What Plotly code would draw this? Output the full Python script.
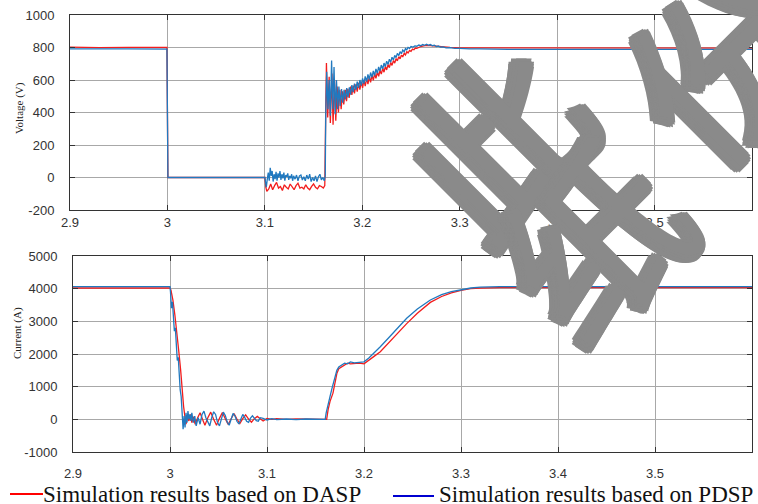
import plotly.graph_objects as go

# ---------------- Voltage (V) ----------------
t_v_dasp = [2.9, 2.93, 2.96, 2.9995, 3.0, 3.0005, 3.1, 3.1005,
            3.101, 3.102, 3.104, 3.106, 3.108, 3.110, 3.112, 3.114, 3.116, 3.118,
            3.120, 3.122, 3.124, 3.126, 3.128, 3.130, 3.132, 3.134, 3.136, 3.138,
            3.140, 3.142, 3.144, 3.146, 3.148, 3.150, 3.152, 3.154, 3.156, 3.158,
            3.160, 3.1615,
            3.1625, 3.1632, 3.1645, 3.1660, 3.1672, 3.1688, 3.1700, 3.1715, 3.1728,
            3.1742, 3.1755, 3.1770, 3.1783, 3.1797, 3.1810, 3.1825, 3.1838, 3.1852,
            3.1865, 3.1880, 3.1893, 3.1907, 3.1920, 3.1935, 3.1948, 3.1962, 3.1975,
            3.1990, 3.2003, 3.2017, 3.2030, 3.2045, 3.2058, 3.2072, 3.2085, 3.2100,
            3.2113, 3.2127, 3.2140, 3.2155, 3.2168, 3.2182, 3.2195, 3.2210, 3.2223,
            3.2237, 3.2250, 3.2265, 3.2278, 3.2292, 3.2305, 3.2320, 3.2333, 3.2347,
            3.2360, 3.2375, 3.2388, 3.2402, 3.2415, 3.2430, 3.2443, 3.2457, 3.2470,
            3.2485, 3.2500, 3.2515, 3.2530, 3.2545, 3.2560, 3.2580, 3.2600, 3.2630,
            3.2660, 3.2700, 3.2750, 3.2800, 3.2900, 3.3000, 3.3500, 3.4500, 3.6000]
v_dasp = [802, 799, 801, 800, 400, 0, 0, -40,
          -60, -85, -70, -40, -75, -50, -30, -65, -55, -80,
          -45, -60, -70, -40, -55, -75, -50, -35, -65, -60,
          -70, -45, -65, -75, -55, -40, -60, -70, -50, -55,
          -65, -50,
          420, 705, 370, 620, 335, 640, 325, 600, 350,
          560, 400, 540, 420, 530, 450, 540, 470, 545,
          490, 560, 508, 566, 518, 574, 528, 582, 540,
          590, 552, 600, 562, 610, 574, 620, 586, 630,
          598, 640, 610, 650, 622, 660, 636, 672, 648,
          684, 662, 696, 676, 708, 690, 720, 704, 732,
          718, 744, 730, 754, 742, 764, 754, 774, 766,
          782, 776, 790, 786, 797, 795, 803, 806, 810,
          813, 812, 809, 805, 801, 798, 797, 796, 796]

t_v_pdsp = [2.9, 2.93, 2.96, 2.9995, 3.0, 3.0005, 3.1,
            3.1008, 3.1015, 3.1025, 3.1035, 3.1045, 3.1055, 3.1065, 3.1075, 3.1085,
            3.1095, 3.1105, 3.1115, 3.1125, 3.1135, 3.1145, 3.1155, 3.1165, 3.1175,
            3.1185, 3.1195, 3.1205, 3.1215, 3.1225, 3.1235, 3.1245, 3.1255, 3.1265,
            3.1275, 3.1285, 3.1295, 3.1310, 3.1325, 3.1340, 3.1355, 3.1370, 3.1385,
            3.1400, 3.1415, 3.1430, 3.1445, 3.1460, 3.1475, 3.1490, 3.1505, 3.1520,
            3.1535, 3.1550, 3.1565, 3.1580, 3.1595, 3.1610, 3.1620,
            3.1625, 3.1635, 3.1648, 3.1660, 3.1672, 3.1685, 3.1697, 3.1710, 3.1722,
            3.1735, 3.1748, 3.1760, 3.1773, 3.1787, 3.1800, 3.1813, 3.1827, 3.1840,
            3.1853, 3.1867, 3.1880, 3.1893, 3.1907, 3.1920, 3.1935, 3.1948, 3.1962,
            3.1975, 3.1990, 3.2003, 3.2017, 3.2030, 3.2045, 3.2058, 3.2072, 3.2085,
            3.2100, 3.2113, 3.2127, 3.2140, 3.2155, 3.2168, 3.2182, 3.2195, 3.2210,
            3.2223, 3.2237, 3.2250, 3.2265, 3.2278, 3.2292, 3.2305, 3.2320, 3.2333,
            3.2347, 3.2360, 3.2375, 3.2388, 3.2402, 3.2415, 3.2430, 3.2443, 3.2457,
            3.2470, 3.2485, 3.2500, 3.2520, 3.2540, 3.2560, 3.2580, 3.2600, 3.2620,
            3.2640, 3.2660, 3.2680, 3.2700, 3.2720, 3.2740, 3.2760, 3.2780, 3.2800,
            3.2830, 3.2860, 3.2900, 3.2950, 3.3000, 3.3100, 3.3200, 3.3500, 3.4500,
            3.6000]
v_pdsp = [791, 789, 791, 790, 400, 0, 0,
          -40, -60, -10, 30, -20, 60, 10, 40, -25,
          20, -10, 35, -20, 25, 0, 40, -15, 20,
          -5, 30, -20, 15, 5, 25, -15, 10, -5,
          20, -20, 10, -10, 15, -20, 10, 15, -15,
          5, -20, 15, -10, 20, -25, 0, -20, 10,
          -25, 5, 20, -15, 0, -20, 10,
          400, 650, 420, 600, 380, 720, 420, 680, 390,
          600, 420, 560, 440, 545, 460, 540, 480, 550,
          495, 555, 510, 568, 525, 578, 540, 590, 552,
          600, 565, 610, 578, 622, 590, 634, 602, 646,
          616, 656, 628, 668, 642, 680, 655, 692, 668,
          704, 682, 716, 696, 728, 710, 740, 724, 752,
          738, 764, 750, 774, 762, 784, 774, 793, 786,
          800, 795, 806, 803, 810, 808, 815, 811, 818,
          813, 820, 814, 818, 811, 814, 806, 809, 802,
          804, 798, 799, 794, 795, 791, 792, 789, 788,
          788]

# ---------------- Current (A) ----------------
t_i_dasp = [2.9, 3.0, 3.001, 3.003, 3.005, 3.007, 3.009, 3.011, 3.0125, 3.014,
            3.0155, 3.0165, 3.0180, 3.0195, 3.0210, 3.0225, 3.0240, 3.0260, 3.0285,
            3.0310, 3.0335, 3.0360, 3.0390, 3.0420, 3.0450, 3.0480, 3.0510, 3.0540,
            3.0570, 3.0600, 3.0630, 3.0660, 3.0690, 3.0720, 3.0750, 3.0780, 3.0810,
            3.0840, 3.0870, 3.0900, 3.0930, 3.0960, 3.1000, 3.1050, 3.1100, 3.1200,
            3.1300, 3.1400, 3.1500, 3.1600, 3.1615, 3.1630, 3.1650, 3.1680, 3.1700,
            3.1720, 3.1740, 3.1770, 3.1800, 3.1830, 3.1860, 3.1900, 3.1950, 3.2000,
            3.2050, 3.2100, 3.2168, 3.2250, 3.2350, 3.2440, 3.2550, 3.2684, 3.2800,
            3.2900, 3.3000, 3.3100, 3.3200, 3.3400, 3.6000]
i_dasp = [4020, 4020, 3950, 3650, 3200, 2700, 2100, 1500, 900, 400,
          50, -150, 100, -50, 150, -100, 80, -150, 50,
          200, 0, -180, 50, 220, 0, -180, 30, 210,
          20, -160, 20, 180, 10, -130, 20, 140, 10,
          -90, 20, 90, 20, -50, 30, 0, 20, 0,
          10, 0, 10, 0, 0, 300, 550, 800, 1100,
          1400, 1550, 1600, 1650, 1720, 1700, 1710, 1720, 1700,
          1800, 1920, 2070, 2330, 2650, 2930, 3250, 3580, 3760,
          3870, 3950, 4000, 4020, 4030, 4030]

t_i_pdsp = [2.9, 3.0, 3.0005, 3.0015, 3.0025, 3.0035, 3.0045, 3.0055, 3.0065,
            3.0075, 3.0085, 3.0095, 3.0105, 3.0115, 3.0125, 3.0135, 3.0145, 3.0155,
            3.0165, 3.0175, 3.0185, 3.0195, 3.0205, 3.0215, 3.0225, 3.0240, 3.0255,
            3.0270, 3.0290, 3.0310, 3.0330, 3.0350, 3.0370, 3.0390, 3.0410, 3.0430,
            3.0450, 3.0470, 3.0490, 3.0510, 3.0530, 3.0550, 3.0570, 3.0590, 3.0610,
            3.0630, 3.0650, 3.0670, 3.0690, 3.0710, 3.0730, 3.0750, 3.0770, 3.0790,
            3.0810, 3.0830, 3.0850, 3.0870, 3.0890, 3.0910, 3.0930, 3.0960, 3.1000,
            3.1050, 3.1100, 3.1200, 3.1300, 3.1400, 3.1500, 3.1600, 3.1610, 3.1630,
            3.1650, 3.1670, 3.1700, 3.1720, 3.1740, 3.1770, 3.1800, 3.1830, 3.1860,
            3.1900, 3.1950, 3.2000, 3.2050, 3.2100, 3.2168, 3.2250, 3.2350, 3.2440,
            3.2550, 3.2684, 3.2800, 3.2900, 3.2994, 3.3100, 3.3200, 3.3400, 3.6000]
i_pdsp = [4060, 4060, 3900, 3400, 3600, 3000, 2700, 2800, 2200,
          1800, 1900, 1300, 900, 700, 200, -300, 100, -250,
          200, -100, 250, 0, 150, -50, 200, -100, 100,
          -200, 50, -150, 150, 250, 50, -100, -200, 50,
          230, 150, -100, -200, 0, 220, 120, -80, -180,
          20, 180, 100, -60, -140, 30, 150, 60, -60,
          -90, 40, 110, 40, -40, -60, 50, 30, -20,
          20, -10, 10, -10, 10, -5, 0, 200, 500,
          700, 950, 1250, 1500, 1600, 1650, 1720, 1700, 1760,
          1730, 1750, 1760, 1880, 2020, 2224, 2480, 2790, 3093,
          3380, 3653, 3820, 3910, 3959, 4020, 4045, 4060, 4060]

# ---------------- Axes ticks ----------------
x_ticks = [2.9, 3.0, 3.1, 3.2, 3.3, 3.4, 3.5, 3.6]
x_labels = ["2.9", "3", "3.1", "3.2", "3.3", "3.4", "3.5", "3.6"]
v_ticks = [-200, 0, 200, 400, 600, 800, 1000]
v_labels = ["-200", "0", "200", "400", "600", "800", "1000"]
i_ticks = [-1000, 0, 1000, 2000, 3000, 4000, 5000]
i_labels = ["-1000", "0", "1000", "2000", "3000", "4000", "5000"]

series_names = ["Simulation results based on DASP", "Simulation results based on PDSP"]
trace_colors = ["#f21d1d", "#2179bf"]
legend_colors = ["#ff0000", "#0000d0"]

W, H = 758, 504
fig = go.Figure()

fig.add_trace(go.Scatter(x=t_v_dasp, y=v_dasp, mode="lines", xaxis="x", yaxis="y",
                         line=dict(color=trace_colors[0], width=1.3), showlegend=False))
fig.add_trace(go.Scatter(x=t_v_pdsp, y=v_pdsp, mode="lines", xaxis="x", yaxis="y",
                         line=dict(color=trace_colors[1], width=1.3), showlegend=False))
fig.add_trace(go.Scatter(x=t_i_dasp, y=i_dasp, mode="lines", xaxis="x2", yaxis="y2",
                         line=dict(color=trace_colors[0], width=1.3), showlegend=False))
fig.add_trace(go.Scatter(x=t_i_pdsp, y=i_pdsp, mode="lines", xaxis="x2", yaxis="y2",
                         line=dict(color=trace_colors[1], width=1.3), showlegend=False))

tick_font = dict(family="Liberation Sans, Arial", size=13, color="#333333")
common_axis = dict(showline=True, linecolor="#333333", linewidth=1, mirror="ticks",
                   ticks="inside", ticklen=5, tickcolor="#333333",
                   showgrid=True, gridcolor="#a8a8a8", gridwidth=1,
                   zeroline=False, tickfont=tick_font, automargin=False)

fig.update_layout(
    width=W, height=H,
    margin=dict(l=0, r=0, t=0, b=0, autoexpand=False),
    paper_bgcolor="white", plot_bgcolor="white",
    showlegend=False,
    xaxis=dict(domain=[70 / W, 752 / W], range=[2.9, 3.6], anchor="y",
               tickvals=x_ticks, ticktext=x_labels, ticklabelstandoff=0, **common_axis),
    yaxis=dict(domain=[1 - 210 / H, 1 - 15 / H], range=[-200, 1000], anchor="x",
               tickvals=v_ticks, ticktext=v_labels, ticklabelstandoff=12, **common_axis),
    xaxis2=dict(domain=[73 / W, 752 / W], range=[2.9, 3.6], anchor="y2",
                tickvals=x_ticks, ticktext=x_labels, ticklabelstandoff=9, **common_axis),
    yaxis2=dict(domain=[1 - 452 / H, 1 - 256 / H], range=[-1000, 5000], anchor="x2",
                tickvals=i_ticks, ticktext=i_labels, ticklabelstandoff=12, **common_axis),
)

annotations = []
# y-axis titles
annotations.append(dict(text="Voltage (V)", x=19 / W, y=1 - 108 / H, xref="paper", yref="paper",
                        showarrow=False, textangle=-90, xanchor="center", yanchor="middle",
                        font=dict(family="Liberation Serif, Times New Roman", size=11, color="#222")))
annotations.append(dict(text="Current (A)", x=17 / W, y=1 - 333 / H, xref="paper", yref="paper",
                        showarrow=False, textangle=-90, xanchor="center", yanchor="middle",
                        font=dict(family="Liberation Serif, Times New Roman", size=11, color="#222")))

# legend entries along the bottom
legend_items = [(10, 43, 41, 494), (393, 434, 437, 496)]
shapes = []
for (x0, x1, xt, yl), name, col in zip(legend_items, series_names, legend_colors):
    shapes.append(dict(type="line", xref="paper", yref="paper",
                       x0=x0 / W, x1=x1 / W, y0=1 - yl / H, y1=1 - yl / H,
                       line=dict(color=col, width=2)))
    annotations.append(dict(text=name, x=xt / W, y=1 - 494 / H, xref="paper", yref="paper",
                            showarrow=False, xanchor="left", yanchor="middle",
                            font=dict(family="Liberation Serif, Times New Roman", size=23,
                                      color="#111111")))

# overlaid watermark characters, thickened by stacking shifted copies in a small disk
wm_font = dict(family="Noto Sans CJK SC", size=178, color="#8a8a8a")
steps = [-5, -2.5, 0, 2.5, 5]
wm_offsets = [(dx, dy) for dx in steps for dy in steps if dx * dx + dy * dy <= 32]
for ch, cx, cy in [("此", 490, 135), ("份", 714, 60), ("纸", 586, 236)]:
    for dx, dy in wm_offsets:
        annotations.append(dict(text=ch, x=cx / W, y=1 - cy / H, xref="paper", yref="paper",
                                showarrow=False, textangle=-45, xanchor="center",
                                yanchor="middle", xshift=dx, yshift=dy, font=wm_font))

fig.update_layout(annotations=annotations, shapes=shapes)
fig.write_html("out.html")
